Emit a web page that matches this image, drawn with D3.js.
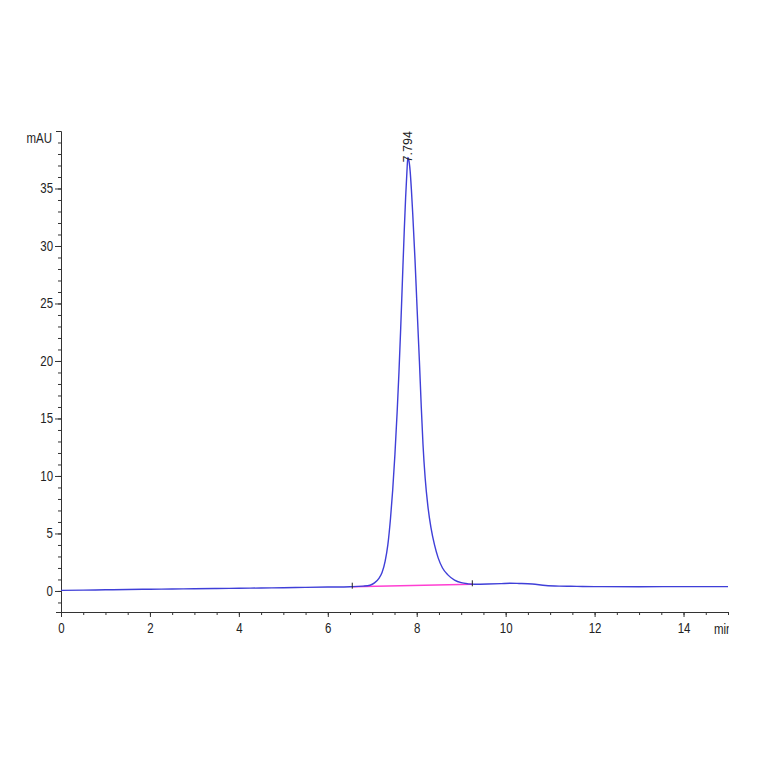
<!DOCTYPE html>
<html>
<head>
<meta charset="utf-8">
<script src="https://cdn.jsdelivr.net/npm/d3@7"></script>
<style>
  html, body { margin: 0; padding: 0; background: #fff; }
  svg { display: block; }
  .lbl { font-family: "Liberation Sans", Arial, sans-serif; font-size: 14px; fill: #222; }
  .axis text { font-family: "Liberation Sans", Arial, sans-serif; font-size: 14px; fill: #222; }
  .axis path, .axis line { stroke: #333; }
</style>
</head>
<body>
<svg id="chart" width="764" height="764"></svg>
<script>
// retention time (min) and signal (mAU)
const times = [0, 0.5, 1, 1.5, 2, 2.5, 3, 3.5, 4, 4.5, 5, 5.5, 6, 6.5, 6.8, 6.95, 7.05, 7.15, 7.22, 7.29,
  7.35, 7.41, 7.46, 7.51, 7.56, 7.6, 7.64, 7.68, 7.72, 7.75, 7.78, 7.8, 7.82, 7.85, 7.88, 7.91, 7.96,
  8.0, 8.03, 8.06, 8.1, 8.14, 8.19, 8.25, 8.32, 8.4, 8.48, 8.58, 8.7, 8.85, 9.0, 9.15, 9.3, 9.6, 9.9,
  10.1, 10.3, 10.6, 10.9, 11.2, 11.6, 12, 13, 14, 15];
const signal = [0.05, 0.07, 0.1, 0.13, 0.15, 0.17, 0.19, 0.21, 0.23, 0.26, 0.28, 0.31, 0.34, 0.37, 0.42, 0.5, 0.7, 1.1, 1.6, 2.6,
  4.0, 6.3, 8.8, 11.9, 15.6, 19.0, 22.9, 27.2, 31.4, 34.2, 36.5, 37.7, 37.5, 36.6, 34.9, 32.8, 28.9,
  25.3, 22.6, 20.0, 16.2, 12.8, 9.8, 7.4, 5.5, 4.0, 2.9, 2.0, 1.4, 0.95, 0.72, 0.62, 0.58, 0.6, 0.64,
  0.67, 0.65, 0.6, 0.47, 0.42, 0.4, 0.38, 0.37, 0.38, 0.38];

// integration baseline (start / end)
const baseTimes = [6.55, 9.25];
const baseValues = [0.37, 0.58];

const peakTime = 7.794;
const peakHeight = 37.7;
const peakLabel = '7.794';

const xTicks = [0, 2, 4, 6, 8, 10, 12, 14];
const yTicks = [0, 5, 10, 15, 20, 25, 30, 35];

const squeeze = 0.82;

const svg = d3.select('#chart');
const x = d3.scaleLinear().domain([0, 15]).range([61, 728]);
const y = d3.scaleLinear().domain([-1.83, 40]).range([612, 131]);

// minor ticks
svg.append('g').attr('class', 'axis')
  .attr('transform', `translate(${x(0)},0)`)
  .call(d3.axisLeft(y).tickValues(d3.range(-1, 41, 1)).tickSize(3).tickSizeOuter(5).tickFormat(''));
svg.append('g').attr('class', 'axis')
  .attr('transform', `translate(0,${y.range()[0]})`)
  .call(d3.axisBottom(x).tickValues(d3.range(0, 15.01, 0.5)).tickSize(3).tickSizeOuter(0).tickFormat(''));

// major ticks with labels
svg.append('g').attr('class', 'axis')
  .attr('transform', `translate(${x(0)},0)`)
  .call(d3.axisLeft(y).tickValues(yTicks).tickSize(6).tickPadding(2).tickSizeOuter(5))
  .call((g) => g.select('.domain').remove())
  .call((g) => g.selectAll('text').attr('x', -8 / squeeze).attr('transform', `scale(${squeeze},1)`));
svg.append('g').attr('class', 'axis')
  .attr('transform', `translate(0,${y.range()[0]})`)
  .call(d3.axisBottom(x).tickValues(xTicks).tickSize(5).tickPadding(6).tickSizeOuter(0))
  .call((g) => g.select('.domain').remove())
  .call((g) => g.selectAll('text').attr('transform', `scale(${squeeze},1)`));

svg.append('text').attr('class', 'lbl')
  .attr('transform', `translate(${x(0) - 9},${y(40) + 12}) scale(${squeeze},1)`)
  .attr('text-anchor', 'end').text('mAU');

svg.append('clipPath').attr('id', 'clipR')
  .append('rect').attr('x', 0).attr('y', 0).attr('width', x(15) + 1).attr('height', 764);
svg.append('g').attr('clip-path', 'url(#clipR)')
  .append('text').attr('class', 'lbl')
  .attr('transform', `translate(${x(15) - 14},${y.range()[0] + 22}) scale(${squeeze},1)`)
  .text('min');

// baseline
svg.append('line')
  .attr('x1', x(baseTimes[0])).attr('y1', y(baseValues[0]))
  .attr('x2', x(baseTimes[1])).attr('y2', y(baseValues[1]))
  .attr('stroke', '#ff3fd2').attr('stroke-width', 1.4);

// trace
const pts = times.map((t, i) => [t, signal[i]]);
svg.append('path')
  .datum(pts)
  .attr('fill', 'none')
  .attr('stroke', '#3f3fd8')
  .attr('stroke-width', 1.4)
  .attr('d', d3.line().x((d) => x(d[0])).y((d) => y(d[1])).curve(d3.curveMonotoneX));

// integration markers
svg.selectAll('line.mark')
  .data(baseTimes)
  .join('line')
  .attr('class', 'mark')
  .attr('x1', (d) => x(d)).attr('x2', (d) => x(d))
  .attr('y1', (d, i) => y(baseValues[i]) - 4)
  .attr('y2', (d, i) => y(baseValues[i]) + 2)
  .attr('stroke', '#222').attr('stroke-width', 1);

// peak label
svg.append('text')
  .attr('transform', `translate(${x(peakTime) + 4},${y(peakHeight) + 5}) rotate(-90)`)
  .attr('font-family', '"Liberation Sans", Arial, sans-serif')
  .attr('font-size', 12.5)
  .attr('fill', '#222')
  .text(peakLabel);
</script>
</body>
</html>
